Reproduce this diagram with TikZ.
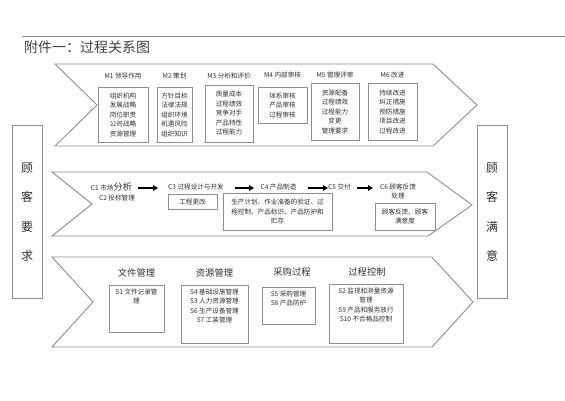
\documentclass[tikz,border=0pt]{standalone}
\usepackage{fontspec}
\newfontfamily\cjk{Noto Sans CJK SC}
\usetikzlibrary{arrows.meta}
\definecolor{linegray}{HTML}{8E8E8E}
\definecolor{txtgray}{HTML}{303030}
\begin{document}
\begin{tikzpicture}[x=1pt,y=-1pt,
  chev/.style={draw=linegray, line width=0.9pt, line join=miter},
  box/.style={draw=linegray, line width=0.8pt, inner sep=0pt},
  sm/.style={font=\cjk\fontsize{6.6}{9.5}\selectfont, align=center, inner sep=0pt, text=txtgray},
  lab/.style={font=\cjk\fontsize{6.6}{9}\selectfont, align=center, inner sep=0pt, text=txtgray},
  big/.style={font=\cjk\fontsize{9.3}{11}\selectfont, inner sep=0pt, text=txtgray},
  side/.style={font=\cjk\fontsize{12}{29.5}\selectfont, align=center, inner sep=0pt, text=txtgray},
  flow/.style={-{Triangle[length=5pt,width=5.5pt]}, line width=1.8pt, black}]
\useasboundingbox (0,0) rectangle (565,400);
\fill[white] (0,0) rectangle (565,400);

% header
\coordinate (hl) at (22,36);
\coordinate (hr) at (565,36);
\draw[linegray, line width=0.8pt] (hl) -- (hr);
\node[font=\cjk\fontsize{14}{16}\selectfont, anchor=west, inner sep=0pt, text=black!75] (title) at (24,47) {附件一：过程关系图};

% side boxes
\node[box, minimum width=30pt, minimum height=173pt] (left) at (27,211.5) {};
\node[side] (lefttxt) at (27,212) {顾\\客\\要\\求};
\node[box, minimum width=30pt, minimum height=173pt] (right) at (492,211.5) {};
\node[side] (righttxt) at (492,212) {顾\\客\\满\\意};

% chevrons
\draw[chev] (55,64) -- (433,64) -- (477,105) -- (433,146) -- (55,146) -- (97,105) -- cycle;
\draw[chev] (52,172) -- (427,172) -- (472,205) -- (428,236) -- (52,236) -- (92,204) -- cycle;
\draw[chev] (52,257) -- (432,257) -- (473,302) -- (432,347) -- (52,347) -- (93,302) -- cycle;

% top row
\node[lab] (m1l) at (123,76) {M1 领导作用};
\node[box, sm, minimum width=50pt, minimum height=55pt] (m1) at (123,114.5) {组织机构\\发展战略\\岗位职责\\公司战略\\资源管理};
\node[lab] (m2l) at (174.5,76) {M2 策划};
\node[box, sm, minimum width=35pt, minimum height=55pt] (m2) at (174.5,114.5) {方针目标\\法律法规\\组织环境\\机遇风险\\组织知识};
\node[lab] (m3l) at (229,76) {M3 分析和评价};
\node[box, sm, minimum width=48pt, minimum height=57pt] (m3) at (229,113.5) {质量成本\\过程绩效\\竞争对手\\产品特性\\过程能力};
\node[lab] (m4l) at (282.5,75) {M4 内部审核};
\node[box, sm, minimum width=49pt, minimum height=36pt] (m4) at (282.5,105) {体系审核\\产品审核\\过程审核};
\node[lab] (m5l) at (335,75) {M5 管理评审};
\node[box, sm, minimum width=48pt, minimum height=57pt] (m5) at (335,111.5) {资源配备\\过程绩效\\过程能力\\变更\\管理要求};
\node[lab] (m6l) at (392.5,75) {M6 改进};
\node[box, sm, minimum width=49pt, minimum height=57pt] (m6) at (392.5,111.5) {持续改进\\纠正措施\\预防措施\\项目改进\\过程改进};

% middle row
\node[lab, anchor=base] (c1) at (111.5,190) {C1 市场{\fontsize{9.3}{11}\selectfont 分析}};
\node[lab] (c2) at (117,198) {C2 投标管理};
\node[lab] (c3) at (196,187) {C3 过程设计与开发};
\node[box, sm, minimum width=49pt, minimum height=15pt] (c3b) at (192.5,201.5) {工程更改};
\node[lab] (c4) at (278.5,187) {C4 产品制造};
\node[box, sm, minimum width=109pt, minimum height=37pt] (c4b) at (277.5,211.5) {生产计划、作业准备的验证、过\\程控制、产品标识、产品防护和\\贮存};
\node[lab] (c5) at (339.5,187) {C5 交付};
\node[lab] (c6) at (398,191) {C6 顾客反馈\\处理};
\node[box, sm, minimum width=60pt, minimum height=27pt] (c6b) at (405,216.5) {顾客反馈、顾客\\满意度};

\coordinate (a1s) at (138,188); \coordinate (a1e) at (158,188);
\coordinate (a2s) at (235,188); \coordinate (a2e) at (254,188);
\coordinate (a3s) at (308,188); \coordinate (a3e) at (328,188);
\coordinate (a4s) at (357,188); \coordinate (a4e) at (373,188);
\draw[flow] (a1s) -- (a1e);
\draw[flow] (a2s) -- (a2e);
\draw[flow] (a3s) -- (a3e);
\draw[flow] (a4s) -- (a4e);

% bottom row
\node[big] (s1l) at (136.5,273) {文件管理};
\node[box, minimum width=55pt, minimum height=47pt] (s1b) at (136.5,308.5) {};
\node[sm, anchor=north] (s1t) at ([yshift=-4pt]s1b.north) {S1 文件记录管\\理};
\node[big] (s2l) at (214.5,273) {资源管理};
\node[box, minimum width=67pt, minimum height=58pt] (s2b) at (214.5,314) {};
\node[sm, anchor=north] (s2t) at ([yshift=-4pt]s2b.north) {S4 基础设施管理\\S3 人力资源管理\\S6 生产设备管理\\S7 工装管理};
\node[big] (s3l) at (292,272) {采购过程};
\node[box, minimum width=53pt, minimum height=37pt] (s3b) at (288.5,305.5) {};
\node[sm, anchor=north] (s3t) at ([yshift=-4pt]s3b.north) {S5 采购管理\\S8 产品防护};
\node[big] (s4l) at (367,272) {过程控制};
\node[box, minimum width=74pt, minimum height=59pt] (s4b) at (366,313.5) {};
\node[sm, anchor=north] (s4t) at ([yshift=-4pt]s4b.north) {S2 监视和测量资源\\管理\\S9 产品和服务放行\\S10 不合格品控制};
\end{tikzpicture}
\end{document}
